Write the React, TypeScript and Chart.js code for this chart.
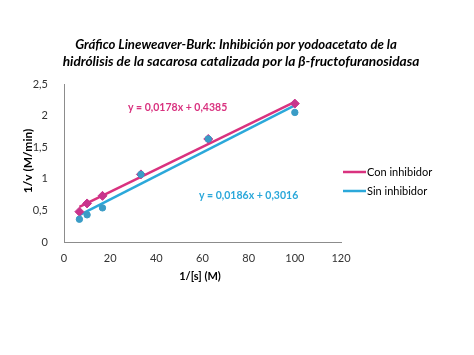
import React, { useEffect, useRef } from "react";
import { Chart, registerables } from "chart.js";

Chart.register(...registerables);

const substrateInv = [6.67, 10, 16.67, 33.33, 62.5, 100];
const conInhibidor = [0.48, 0.61, 0.73, 1.07, 1.63, 2.19];
const sinInhibidor = [0.36, 0.43, 0.54, 1.07, 1.63, 2.05];
const trendX = [6.67, 100];
const conTrend = [0.557, 2.219];
const sinTrend = [0.426, 2.162];
const xTicks = [0, 20, 40, 60, 80, 100, 120];
const yTicks = [0, 0.5, 1, 1.5, 2, 2.5];

const titleLines = [
  "Gráfico Lineweaver-Burk: Inhibición por yodoacetato de la",
  "hidrólisis de la sacarosa catalizada por la β-fructofuranosidasa",
];
const seriesNames = ["Con inhibidor", "Sin inhibidor"];
const equations = ["y = 0,0178x + 0,4385", "y = 0,0186x + 0,3016"];
const xTitle = "1/[s] (M)";
const yTitle = "1/v (M/min)";

const MAGENTA = "#D9327F";
const MAGENTA_PT = "#C8358C";
const CYAN = "#2BA8DA";
const CYAN_PT = "#3A9CC6";
const FONT = "Lato, 'Open Sans', sans-serif";

const fmt = (v: number) => String(v).replace(".", ",");

const overlayPlugin = {
  id: "overlay",
  afterDraw(chart: any) {
    const ctx = chart.ctx as CanvasRenderingContext2D;
    ctx.save();
    ctx.fillStyle = "#000";
    ctx.textAlign = "center";
    ctx.textBaseline = "middle";
    const fitFont = (text: string, target: number, weight: string) => {
      let size = 14;
      ctx.font = `${weight} ${size}px ${FONT}`;
      const w = ctx.measureText(text).width;
      size = (size * target) / w;
      ctx.font = `${weight} ${size}px ${FONT}`;
    };
    fitFont(titleLines[0], 322, "italic bold");
    ctx.fillText(titleLines[0], 236, 45);
    fitFont(titleLines[1], 357, "italic bold");
    ctx.fillText(titleLines[1], 241, 62);

    ctx.font = `bold 11px ${FONT}`;
    ctx.fillStyle = "#000";
    ctx.fillText(xTitle, 200, 276);
    ctx.save();
    ctx.translate(28, 161);
    ctx.rotate(-Math.PI / 2);
    ctx.font = `bold 12px ${FONT}`;
    ctx.fillText(yTitle, 0, 0);
    ctx.restore();

    ctx.font = `bold 10.5px ${FONT}`;
    ctx.textAlign = "left";
    ctx.fillStyle = MAGENTA;
    ctx.fillText(equations[0], 128, 108);
    ctx.fillStyle = CYAN;
    ctx.fillText(equations[1], 199, 196);

    ctx.font = `11px ${FONT}`;
    const items = [
      { c: MAGENTA, t: seriesNames[0], y: 172 },
      { c: CYAN, t: seriesNames[1], y: 191 },
    ];
    for (const it of items) {
      ctx.strokeStyle = it.c;
      ctx.lineWidth = 2.5;
      ctx.beginPath();
      ctx.moveTo(343, it.y);
      ctx.lineTo(366, it.y);
      ctx.stroke();
      ctx.fillStyle = "#000";
      ctx.fillText(it.t, 367, it.y);
    }
    ctx.restore();
  },
};

export default function App() {
  const ref = useRef<HTMLCanvasElement>(null);
  useEffect(() => {
    document.body.style.margin = "0";
    const chart = new Chart(ref.current!, {
      type: "scatter",
      data: {
        datasets: [
          {
            label: seriesNames[0] + " puntos",
            data: substrateInv.map((x, i) => ({ x, y: conInhibidor[i] })),
            pointStyle: "rectRot",
            pointRadius: 4.5,
            backgroundColor: MAGENTA_PT,
            borderColor: MAGENTA_PT,
            order: 1,
          },
          {
            label: seriesNames[1] + " puntos",
            data: substrateInv.map((x, i) => ({ x, y: sinInhibidor[i] })),
            pointStyle: "circle",
            pointRadius: 3.2,
            backgroundColor: CYAN_PT,
            borderColor: CYAN_PT,
            order: 0,
          },
          {
            label: seriesNames[0],
            type: "line",
            data: trendX.map((x, i) => ({ x, y: conTrend[i] })),
            borderColor: MAGENTA,
            borderWidth: 2.5,
            pointRadius: 0,
            showLine: true,
            order: 2,
          },
          {
            label: seriesNames[1],
            type: "line",
            data: trendX.map((x, i) => ({ x, y: sinTrend[i] })),
            borderColor: CYAN,
            borderWidth: 2.5,
            pointRadius: 0,
            showLine: true,
            order: 3,
          },
        ] as any,
      },
      options: {
        animation: false,
        responsive: false,
        layout: { padding: { left: 0, right: 133, top: 84, bottom: 0 } },
        plugins: { legend: { display: false }, title: { display: false }, tooltip: { enabled: false } },
        scales: {
          x: {
            type: "linear",
            min: xTicks[0],
            max: xTicks[xTicks.length - 1],
            afterBuildTicks: (s: any) => { s.ticks = xTicks.map((v) => ({ value: v })); },
            grid: { display: false, drawTicks: false },
            border: { display: true, color: "#8C8C8C", width: 1 },
            ticks: { font: { family: FONT, size: 11 }, color: "#333", padding: 10, callback: (v: any) => fmt(v) },
            afterFit: (s: any) => { s.height = 355 - 242; },
          },
          y: {
            type: "linear",
            min: yTicks[0],
            max: yTicks[yTicks.length - 1],
            afterBuildTicks: (s: any) => { s.ticks = yTicks.map((v) => ({ value: v })); },
            grid: { display: false, drawTicks: false },
            border: { display: true, color: "#8C8C8C", width: 1 },
            ticks: { font: { family: FONT, size: 11 }, color: "#333", padding: 16, callback: (v: any) => fmt(v) },
            afterFit: (s: any) => { s.width = 64; },
          },
        },
      } as any,
      plugins: [overlayPlugin],
    });
    return () => chart.destroy();
  }, []);
  return <canvas ref={ref} width={474} height={355} style={{ display: "block", width: 474, height: 355 }} />;
}
